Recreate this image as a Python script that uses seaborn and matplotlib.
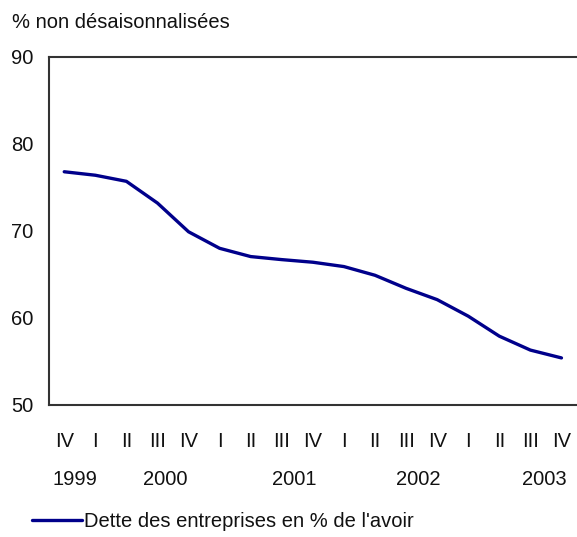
"""
Dette des entreprises en % de l'avoir, trimestriel 1999-2003
"""
import matplotlib
matplotlib.use("Agg")
import matplotlib.pyplot as plt
import seaborn as sns
import numpy as np

# Données
trimestres = ["IV", "I", "II", "III", "IV", "I", "II", "III", "IV",
              "I", "II", "III", "IV", "I", "II", "III", "IV"]
dette = [76.8, 76.4, 75.7, 73.2, 69.9, 68.0, 67.05, 66.7, 66.4,
         65.9, 64.9, 63.4, 62.1, 60.2, 57.9, 56.3, 55.4]
annees = ["1999", "2000", "2001", "2002", "2003"]
y_ticks = [50, 60, 70, 80, 90]

# Position des années sous les trimestres (mise en page)
annees_pos = [0.35, 3.25, 7.4, 11.4, 15.45]

sns.set_style("white")
plt.rcParams['font.family'] = ['Liberation Sans', 'DejaVu Sans']

fig = plt.figure(figsize=(5.77, 5.37), dpi=100)
ax = fig.add_axes([0.0844, 0.246, 0.9156, 0.648])

x = np.arange(len(dette))
sns.lineplot(x=x, y=dette, ax=ax, color='#00008b', linewidth=2.4,
             label="Dette des entreprises en % de l'avoir", legend=False)

ax.set_xlim(-0.5, len(dette) - 0.5)
ax.set_ylim(50, 90)
ax.set_yticks(y_ticks)
ax.tick_params(axis='y', direction='in', length=3, width=1, pad=11,
               labelsize=14.5, colors='#333333', labelcolor='#111111')

# ticks majeurs entre les trimestres, étiquettes au centre
ax.set_xticks(np.arange(0.5, len(dette) - 0.5, 1))
ax.set_xticklabels([])
ax.set_xticks(x, minor=True)
ax.set_xticklabels(trimestres, minor=True)
ax.tick_params(axis='x', which='major', direction='in', length=3, width=1,
               colors='#333333')
ax.tick_params(axis='x', which='minor', length=0, pad=19.5, labelsize=14.5,
               labelcolor='#111111')

for side in ['left', 'bottom', 'top']:
    ax.spines[side].set_color('#333333')
    ax.spines[side].set_linewidth(1.5)
ax.spines['right'].set_visible(False)

for annee, pos in zip(annees, annees_pos):
    ax.text(pos, -0.215, annee, transform=ax.get_xaxis_transform(),
            ha='center', va='center', fontsize=14.5, color='#111111')

fig.text(0.021, 0.958, "% non désaisonnalisées", ha='left', va='center',
         fontsize=14.5, color='#111111')

handles, labels = ax.get_legend_handles_labels()
leg = fig.legend(handles, labels, loc='center left',
                 bbox_to_anchor=(0.055, 0.028), frameon=False, fontsize=14.5,
                 handlelength=2.5, handletextpad=0.1, borderaxespad=0,
                 borderpad=0)
for t in leg.get_texts():
    t.set_color('#111111')

plt.savefig("out.png", dpi=100)
